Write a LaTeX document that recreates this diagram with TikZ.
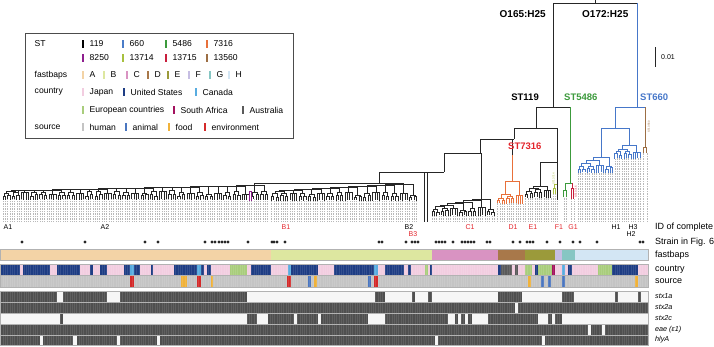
\documentclass[tikz,border=0pt]{standalone}
\usepackage{fontspec}
\setmainfont{Liberation Sans}
\usetikzlibrary{positioning}

% tree colours
\definecolor{treeblack}{HTML}{262626}
\definecolor{treeblue}{HTML}{4677C9}
\definecolor{treegreen}{HTML}{3C9A3C}
\definecolor{treeorange}{HTML}{E8703A}
\definecolor{idred}{HTML}{E3242B}
% ST colours
\definecolor{st660}{HTML}{4A7CC8}
\definecolor{st5486}{HTML}{3C9A3C}
\definecolor{st7316}{HTML}{E8703A}
\definecolor{st8250}{HTML}{8E1E8E}
\definecolor{st13714}{HTML}{A7C03E}
\definecolor{st13715}{HTML}{C81E3C}
\definecolor{st13560}{HTML}{9C6E44}
% fastbaps colours
\definecolor{fbA}{HTML}{F3D3A6}
\definecolor{fbB}{HTML}{DDE7A0}
\definecolor{fbC}{HTML}{D993C2}
\definecolor{fbD}{HTML}{A8784A}
\definecolor{fbE}{HTML}{9B9A3A}
\definecolor{fbF}{HTML}{C6BEE3}
\definecolor{fbG}{HTML}{86C6C3}
\definecolor{fbH}{HTML}{D3E6F4}
% country colours
\definecolor{jpn}{HTML}{F2CDE0}
\definecolor{usa}{HTML}{1E3D84}
\definecolor{can}{HTML}{58ACE0}
\definecolor{eur}{HTML}{A9CD7C}
\definecolor{saf}{HTML}{A3125E}
\definecolor{aus}{HTML}{5A5A5A}
% source colours
\definecolor{human}{HTML}{C4C4C4}
\definecolor{animal}{HTML}{4A76C0}
\definecolor{food}{HTML}{F0B23A}
\definecolor{env}{HTML}{D42A2A}
% gene colours
\definecolor{genedark}{HTML}{4F4F4F}
\definecolor{geneabs}{HTML}{F6F6F6}

\newcommand{\leafgap}{2.3}
% comb of quads: first leaf x, quads, tip y, first join y, last join y, colour
\newcommand{\cladecomb}[6]{%
  \foreach \k in {1,...,#2}{%
    \pgfmathsetmacro{\lfa}{#1+(\k-1)*4*\leafgap}%
    \pgfmathsetmacro{\lfb}{\lfa+\leafgap}%
    \pgfmathsetmacro{\lfc}{\lfa+2*\leafgap}%
    \pgfmathsetmacro{\lfd}{\lfa+3*\leafgap}%
    \pgfmathsetmacro{\tpa}{#3+rnd*1.2}%
    \pgfmathsetmacro{\tpb}{#3+rnd*1.2}%
    \pgfmathsetmacro{\tpc}{#3+rnd*1.2}%
    \pgfmathsetmacro{\tpd}{#3+rnd*1.2}%
    \pgfmathsetmacro{\pra}{#3-2.5-rnd*2.5}%
    \pgfmathsetmacro{\prb}{#3-2.5-rnd*2.5}%
    \pgfmathsetmacro{\qdy}{min(\pra,\prb)-1.5-rnd*2}%
    \pgfmathsetmacro{\qdx}{\lfa+1.5*\leafgap}%
    \pgfmathtruncatemacro{\shp}{mod(\k,3)}%
    \draw[leafdot] (\lfa,222) -- (\lfa,\tpa) (\lfb,222) -- (\lfb,\tpb)
      (\lfc,222) -- (\lfc,\tpc) (\lfd,222) -- (\lfd,\tpd);
    \ifnum\shp=0
      \draw[branch,#6] (\lfa,\tpa) |- (\lfd,\qdy) -- (\lfd,\tpd)
        (\lfb,\qdy) -- (\lfb,\tpb) (\lfc,\qdy) -- (\lfc,\tpc);
    \else
      \draw[branch,#6] (\lfa,\tpa) |- (\lfb,\pra) -- (\lfb,\tpb)
        (\lfc,\tpc) |- (\lfd,\prb) -- (\lfd,\tpd)
        (\lfa+0.5*\leafgap,\pra) |- (\lfc+0.5*\leafgap,\qdy) -- (\lfc+0.5*\leafgap,\prb);
    \fi
    \ifnum\k=1
      \xdef\catx{\qdx}\xdef\caty{\qdy}%
    \else
      \pgfmathsetmacro{\jny}{#4+(#5-#4)*(\k-2)/max(#2-2,1)}%
      \draw[branch,#6] (\catx,\caty) |- (\qdx,\jny) -- (\qdx,\qdy);
      \pgfmathsetmacro{\nwx}{(\catx+\qdx)/2}%
      \xdef\catx{\nwx}\xdef\caty{\jny}%
    \fi
  }%
}

\begin{document}
\begin{tikzpicture}[x=1pt, y=-1pt,
    branch/.style={line width=0.75pt},
    leafdot/.style={draw=gray!55, line width=0.4pt, dash pattern=on 1.2pt off 1.3pt},
    legtext/.style={font=\fontsize{8.6}{10}\selectfont, inner sep=0.5pt, anchor=west},
    treelab/.style={font=\fontsize{10}{12}\selectfont\bfseries, inner sep=0pt},
    stlab/.style={font=\fontsize{9.5}{11}\selectfont\bfseries, inner sep=0pt},
    idlab/.style={font=\fontsize{7}{8}\selectfont, inner sep=0pt},
    rowlab/.style={font=\fontsize{9}{10}\selectfont, anchor=west, inner sep=0pt},
    genelab/.style={font=\fontsize{7.2}{8}\selectfont\itshape, anchor=west, inner sep=0pt},
    tinylab/.style={font=\fontsize{2.8}{3}\selectfont, inner sep=0pt, rotate=90},
    rowedge/.style={draw=gray!60, line width=0.4pt}
]
    \useasboundingbox (0,0) rectangle (714,346);
    \pgfmathsetseed{11}

    % legend
    \draw[gray!60!black, line width=0.6pt] (25,33) rectangle (293,138);
    \node[legtext] (legST) at (34,44) {ST};
    \node[legtext] (legfb) at (34,75) {fastbaps};
    \node[legtext] (legcountry) at (34,92) {country};
    \node[legtext] (legsource) at (34,127) {source};
    \foreach \x/\y/\c/\t [count=\i] in {
        83/44/black/119, 123/44/st660/660, 166/44/st5486/5486, 207/44/st7316/7316,
        83/58/st8250/8250, 123/58/st13714/13714, 166/58/st13715/13715, 207/58/st13560/13560,
        83/75/fbA/A, 104/75/fbB/B, 127/75/fbC/C, 148/75/fbD/D,
        168/75/fbE/E, 189/75/fbF/F, 210/75/fbG/G, 229/75/fbH/H,
        83/92/jpn/Japan, 124/92/usa/United States, 196/92/can/Canada,
        83/110/eur/European countries, 174/110/saf/South Africa, 243/110/aus/Australia,
        83/127/human/human, 126/127/animal/animal, 169/127/food/food, 205/127/env/environment}
    {
        \fill[\c] (\x-0.8,\y-4) rectangle (\x+0.8,\y+4);
        \node[legtext] (leg\i) at (\x+6,\y) {\t};
    }

    % backbone of the tree
    \draw[branch,treeblack] (595,0) -- (595,3);
    \draw[branch,treeblack] (553,107) -- (553,3) -- (637,3);
    \draw[branch,treeblue] (637,3) -- (637,107);
    \draw[branch,treeblack] (536,128) -- (536,107) -- (570,107);
    \draw[branch,treegreen] (570,107) -- (570,183);
    \draw[branch,treeblack] (514,128) -- (557,128) -- (557,200);
    \draw[branch,treeblack] (514,128) -- (514,139);
    \draw[branch,treeblack] (480,153) |- (514,139);

    % clade A and B
    \cladecomb{3}{29}{199}{191}{185.5}{treeblack}
    \let\Acx\catx \let\Acy\caty
    \cladecomb{271.5}{16}{200}{191}{184}{treeblack}
    \let\Bcx\catx \let\Bcy\caty
    \draw[branch,treeblack] (\Acx,\Acy) |- (\Bcx,183) -- (\Bcx,\Bcy);
    \draw[branch,treeblack] (379,183) -- (379,172) -- (444,172);
    \draw[branch,treeblack] (424,172) -- (424,222) (427,172) -- (427,222);
    \draw[branch,st8250] (249.8,201) |- (251.8,191) -- (251.8,201);

    % clade C
    \cladecomb{432}{7}{215}{206.5}{199}{treeblack}
    \let\Ccx\catx \let\Ccy\caty
    \draw[branch,treeblack] (\Ccx,\Ccy) |- (444,153) -- (444,172);

    % ST7316 (D)
    \cladecomb{497.5}{3}{203}{194}{181}{treeorange}
    \let\Dcx\catx \let\Dcy\caty
    \draw[branch,treeorange] (\Dcx,\Dcy) -- (\Dcx,155);
    \draw[branch,treeblack] (\Dcx,155) -- (\Dcx,139);

    % clade E
    \cladecomb{525.5}{3}{197}{188.5}{186}{treeblack}
    \let\Ecx\catx \let\Ecy\caty
    \draw[branch,treeblack] (\Ecx,\Ecy) |- (557,162);

    % ST13714 (F)
    \draw[leafdot] (553.2,222) -- (553.2,194) (555.3,222) -- (555.3,194) (557,222) -- (557,200);
    \draw[branch,st13714] (557,184) -| (554.2,188);
    \draw[branch,st13714] (553.2,194) |- (555.3,188) -- (555.3,194);
    \node[tinylab, text=st13714] (lab13714) at (553.6,179) {ST13714};

    % ST5486 and ST13715 (G)
    \draw[leafdot] (563.8,222) -- (563.8,197) (566.6,222) -- (566.6,197)
        (571.5,222) -- (571.5,199) (573.7,222) -- (573.7,199);
    \draw[branch,treegreen] (565.2,190) |- (572.6,183);
    \draw[branch,treegreen] (563.8,197) |- (566.6,190) -- (566.6,197);
    \draw[branch,st13715] (572.6,183) -- (572.6,188);
    \draw[branch,st13715] (571.5,199) |- (573.7,188) -- (573.7,199);
    \node[tinylab, text=st13715] (lab13715) at (576,192) {ST13715};

    % ST660 (H)
    \cladecomb{578}{4}{172}{163}{157}{treeblue}
    \let\Lcx\catx \let\Lcy\caty
    \cladecomb{614.8}{3}{158}{149.5}{145}{treeblue}
    \let\Rcx\catx \let\Rcy\caty
    \pgfmathsetmacro{\bmid}{(\Lcx+\Rcx)/2}
    \draw[branch,treeblue] (\Lcx,\Lcy) |- (\Rcx,128) -- (\Rcx,\Rcy);
    \draw[branch,treeblue] (\bmid,128) |- (645,107);

    % ST13560
    \draw[leafdot] (643.2,222) -- (643.2,153) (646.8,222) -- (646.8,153);
    \draw[branch,st13560] (645,107) -- (645,147);
    \draw[branch,st13560] (643.2,153) |- (646.8,147) -- (646.8,153);
    \node[tinylab, text=st13560] (lab13560) at (649,127) {ST13560};

    % tree labels
    \node[treelab, anchor=east] (o165) at (546,14) {O165:H25};
    \node[treelab, anchor=west] (o172) at (582,14) {O172:H25};
    \node[stlab, anchor=east] (st119) at (539,97) {ST119};
    \node[stlab, anchor=west, text=treegreen] (st5486) at (564,97) {ST5486};
    \node[stlab, anchor=west, text=treeblue] (st660) at (640,97) {ST660};
    \node[stlab, anchor=west, text=idred] (st7316) at (508,146) {ST7316};

    % scale bar
    \draw[gray!30!black, line width=0.5pt] (655,47) -- (655,67);
    \node[idlab, anchor=west] (scale) at (661,57) {0.01};

    % complete strains
    \foreach \x/\y/\t/\c in {8/227/A1/black, 105/227/A2/black, 286/227/B1/idred,
        409/227/B2/black, 413/234/B3/idred, 470/227/C1/idred, 513/227/D1/idred,
        533/227/E1/idred, 559/227/F1/idred, 573/227/G1/idred, 616/227/H1/black,
        633/227/H3/black, 631/234/H2/black}
        \node[idlab, text=\c] (id\t) at (\x,\y) {\t};
    \foreach \x in {22, 85, 145, 158, 205, 212, 215, 219, 222, 225, 228, 248, 272, 274,
        277, 285, 379, 382, 406, 412, 415, 418, 436, 439, 442, 445, 453, 462, 465, 468,
        471, 474, 487, 490, 513, 520, 527, 530, 533, 547, 560, 573, 580, 597, 640, 643}
        \fill[treeblack] (\x,242) circle (1.7);

    % fastbaps
    \foreach \a/\b/\c in {0/271/fbA, 271/432/fbB, 432/498/fbC, 498/525/fbD,
        525/555/fbE, 555/562/fbF, 562/575/fbG, 575/648/fbH}
        \fill[\c] (\a,249) rectangle (\b,260);
    \draw[rowedge] (0,249) rectangle (648,260);

    % country
    \foreach \a/\b/\c in {0/20/usa, 20/23/jpn, 23/50/usa, 50/57/jpn, 57/80/usa,
        80/90/jpn, 90/93/usa, 93/100/jpn, 100/107/usa, 107/124/jpn, 124/130/usa,
        130/134/can, 134/140/usa, 140/151/jpn, 151/153/usa, 153/174/jpn, 174/197/usa,
        197/201/can, 201/204/usa, 204/207/jpn, 207/211/usa, 211/230/jpn, 230/247/eur,
        247/251/jpn, 251/271/usa, 271/288/jpn, 288/291/can, 291/318/usa, 318/334/jpn,
        334/374/usa, 374/378/can, 378/385/jpn, 385/404/usa, 404/408/jpn, 408/411/usa,
        411/425/jpn, 425/428/eur, 428/430/jpn, 430/432/usa, 432/498/jpn, 498/501/usa,
        501/512/aus, 512/515/jpn, 515/518/aus, 518/525/jpn, 525/532/eur, 532/535/jpn,
        535/538/usa, 538/552/eur, 552/555/saf, 555/562/jpn, 562/565/can, 565/568/jpn,
        568/572/usa, 572/598/jpn, 598/612/eur, 612/638/usa, 638/648/jpn}
        \fill[\c] (\a,264) rectangle (\b,275);

    % source
    \fill[human] (0,275) rectangle (648,287);
    \foreach \a/\b/\c in {130/134/env, 181/187/food, 197/201/env, 211/213/food,
        287/291/env, 308/311/animal, 314/317/food, 368/371/animal, 374/378/env,
        528/531/food, 541/544/animal, 548/551/animal, 562/565/animal, 635/638/food}
        \fill[\c] (\a,275) rectangle (\b,287);

    % genes
    \fill[genedark] (0,291) rectangle (648,345.5);
    \foreach \a/\b in {57/63, 107/120, 247/375, 385/412, 415/428, 432/498, 522/562,
        574/615, 618/638, 641/648}
        \fill[geneabs] (\a,291) rectangle (\b,302);
    \fill[geneabs] (515,302) rectangle (518,313);
    \foreach \a/\b in {0/60, 63/247, 257/268, 294/297, 318/321, 368/385, 448/455,
        458/461, 465/468, 472/488, 538/548, 552/555, 562/648}
        \fill[geneabs] (\a,313) rectangle (\b,324);
    \foreach \a/\b in {588/591, 602/605}
        \fill[geneabs] (\a,324) rectangle (\b,335);
    \foreach \a/\b in {40/43, 73/77, 117/120, 157/160, 435/438, 542/545}
        \fill[geneabs] (\a,335) rectangle (\b,345.5);
    \foreach \x in {3,5.3,...,648}
        \draw[white, opacity=0.1, line width=0.3pt] (\x,264) -- (\x,287) (\x,291) -- (\x,345.5);
    \draw[rowedge] (0,264) rectangle (648,275);
    \draw[rowedge] (0,275) rectangle (648,287);
    \foreach \ya/\yb in {291/302, 302/313, 313/324, 324/335, 335/345.5}
        \draw[rowedge] (0,\ya) rectangle (648,\yb);

    % row labels
    \node[rowlab] (idtitle) at (655,227) {ID of complete};
    \node[rowlab] (idfig) at (655,242) {Strain in Fig. 6};
    \node[rowlab] (rowfb) at (655,255) {fastbaps};
    \node[rowlab] (rowcountry) at (655,270) {country};
    \node[rowlab] (rowsource) at (655,281) {source};
    \node[genelab] (gstxa) at (655,296.5) {stx1a};
    \node[genelab] (gstxb) at (655,307.5) {stx2a};
    \node[genelab] (gstxc) at (655,318.5) {stx2c};
    \node[genelab] (geae) at (655,329.5) {eae (ε1)};
    \node[genelab] (ghly) at (655,340) {hlyA};
\end{tikzpicture}
\end{document}
